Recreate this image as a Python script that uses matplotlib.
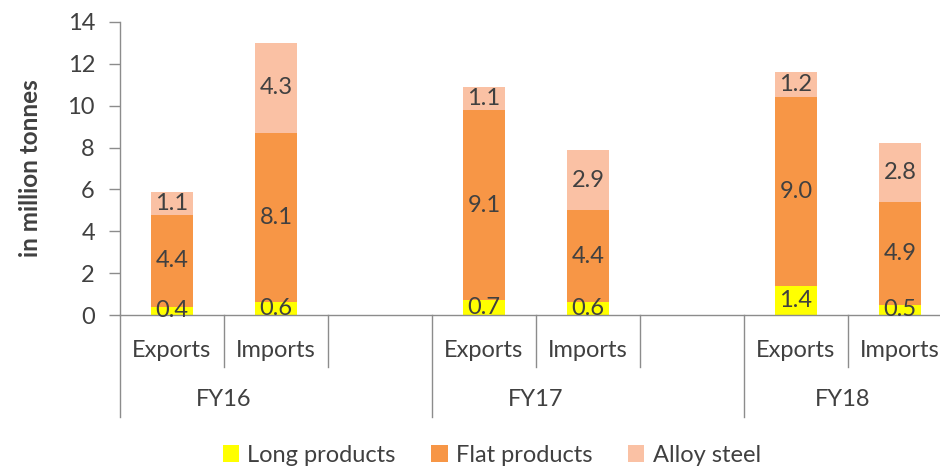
import numpy as np
import matplotlib.pyplot as plt
import matplotlib.transforms as mtransforms

plt.rcParams['font.family'] = ['Lato', 'DejaVu Sans']

# data (million tonnes)
years = ['FY16', 'FY17', 'FY18']
flows = ['Exports', 'Imports']
long_products = [0.4, 0.6, 0.7, 0.6, 1.4, 0.5]
flat_products = [4.4, 8.1, 9.1, 4.4, 9.0, 4.9]
alloy_steel = [1.1, 4.3, 1.1, 2.9, 1.2, 2.8]

series_names = ['Long products', 'Flat products', 'Alloy steel']
colors = ['#FFFF00', '#F79646', '#FAC1A4']
txt = '#404040'
grey = '#8C8C8C'
fs = 17

# slot positions: exports, imports, blank gap, per year
x = []
for g in range(len(years)):
    x += [g * 3, g * 3 + 1]
x = np.array(x)

fig = plt.figure(figsize=(9.4, 4.68), dpi=100)
ax = fig.add_axes([120/940, 153/468, 832/940, 293/468])

bottom = np.zeros(len(x))
for vals, name, c in zip([long_products, flat_products, alloy_steel], series_names, colors):
    vals = np.array(vals)
    ax.bar(x, vals, 0.4, bottom=bottom, color=c, label=name)
    for xi, b, v in zip(x, bottom, vals):
        ax.text(xi, b + v / 2, f'{v:.1f}', ha='center', va='center',
                fontsize=fs, color=txt)
    bottom += vals

ax.set_ylim(0, 14)
ax.set_yticks(range(0, 15, 2))
ax.set_xlim(-0.5, 7.5)
ax.set_xticks([])
ax.tick_params(axis='y', labelsize=fs, labelcolor=txt, color=grey, length=8, width=1, pad=10)
for s in ['top', 'right']:
    ax.spines[s].set_visible(False)
for s in ['left', 'bottom']:
    ax.spines[s].set_color(grey)
    ax.spines[s].set_linewidth(1)

ax.set_ylabel('in million tonnes', fontsize=17.5, fontweight='bold', color=txt, labelpad=18)

# multi-level category axis
trans = mtransforms.blended_transform_factory(ax.transData, ax.transAxes)
for k in range(9):
    bx = k - 0.5
    if bx > 7.5:
        break
    depth = 0.348 if k % 3 == 0 else 0.1775
    ax.plot([bx, bx], [0, -depth], color=grey, lw=1, transform=trans, clip_on=False)
for i, xi in enumerate(x):
    ax.text(xi, -0.12, flows[i % 2], transform=trans, ha='center', va='center',
            fontsize=fs, color=txt)
for g, yr in enumerate(years):
    xc = g * 3 + 0.5 if g < 2 else g * 3 + 0.45
    ax.text(xc, -0.29, yr, transform=trans, ha='center', va='center',
            fontsize=fs, color=txt)

leg = fig.legend(loc='center', bbox_to_anchor=(0.523, 0.027), ncol=3, frameon=False,
                 fontsize=17, handlelength=0.7, handleheight=0.7, handletextpad=0.35,
                 columnspacing=1.5)
for t in leg.get_texts():
    t.set_color(txt)

fig.savefig('out.png', dpi=100)
